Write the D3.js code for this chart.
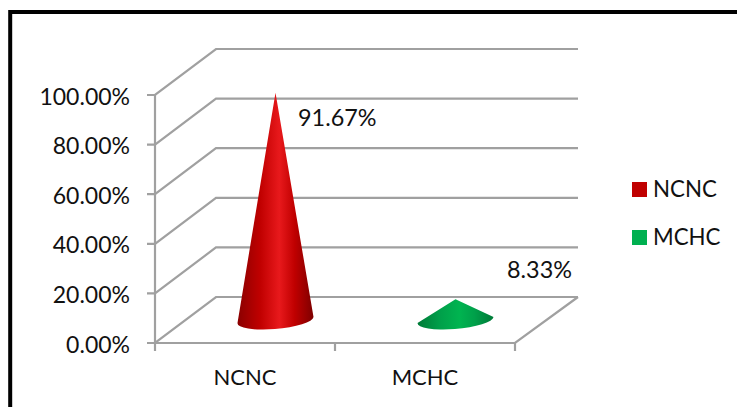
<!DOCTYPE html>
<html>
<head>
<meta charset="utf-8">
<script src="https://cdn.jsdelivr.net/npm/d3@7"></script>
<style>
  html, body { margin: 0; padding: 0; background: #fff; }
  svg { display: block; }
  text { font-family: Lato, "Open Sans", sans-serif; fill: #111; }
</style>
</head>
<body>
<svg id="chart" width="737" height="407"></svg>
<script>
var categories = ["NCNC", "MCHC"];
var values = [91.67, 8.33];
var valueLabels = ["91.67%", "8.33%"];
var yTicks = [0, 20, 40, 60, 80, 100];
var colors = ["#c00000", "#00b050"];

var svg = d3.select("#chart");

// frame
svg.append("path")
  .attr("d", "M10.2,407V12H737")
  .attr("fill", "none")
  .attr("stroke", "#000")
  .attr("stroke-width", 4);

var y = d3.scaleLinear().domain([0, 100]).range([343, 95]);
var x = d3.scaleBand().domain(categories).range([155, 515]);

// depth of the 3d floor
var depthX = 61, depthY = -46;
var grey = "#a0a0a0";
var wall = svg.append("g").attr("fill", "none").attr("stroke", grey).attr("stroke-width", 2.2);

yTicks.forEach(function (t) {
  wall.append("path").attr("d",
    "M" + (x.range()[0] - 8) + "," + y(t) +
    "H" + x.range()[0] +
    "L" + (x.range()[0] + depthX) + "," + (y(t) + depthY) +
    "H" + (x.range()[1] + depthX + 2));
});
wall.append("path").attr("d", "M155," + y(100) + "V" + (y(0) + 8));
wall.append("path").attr("d",
  "M155," + y(0) + "H" + x.range()[1] + "l" + (depthX + 2) + "," + depthY);
x.domain().forEach(function (c) {
  wall.append("path").attr("d", "M" + (x(c) + x.bandwidth()) + "," + y(0) + "v8");
});

svg.append("g").selectAll("text").data(yTicks).enter().append("text")
  .attr("x", 130)
  .attr("y", function (d) { return y(d) + 9.5; })
  .attr("text-anchor", "end")
  .attr("font-size", 23)
  .text(function (d) { return d.toFixed(2) + "%"; });

svg.append("g").selectAll("text").data(categories).enter().append("text")
  .attr("x", function (d) { return x(d) + x.bandwidth() / 2; })
  .attr("y", 385)
  .attr("text-anchor", "middle")
  .attr("font-size", 22)
  .text(function (d) { return d; });

// gradients for the cones
var defs = svg.append("defs");
var shades = [["#8a0000", "#c00000", "#e8191c", "#c00000", "#7d0000"],
              ["#007a38", "#00a04a", "#00b450", "#00a04a", "#007a38"]];
var stops = [0, 0.3, 0.55, 0.75, 1];
shades.forEach(function (s, i) {
  var g = defs.append("linearGradient").attr("id", "cone" + i);
  s.forEach(function (col, j) {
    g.append("stop").attr("offset", stops[j]).attr("stop-color", col);
  });
});

var baseY = y(0) - 23, rx = 38, ry = 9, tilt = 3;
svg.append("g").selectAll("path").data(values).enter().append("path")
  .attr("fill", function (d, i) { return "url(#cone" + i + ")"; })
  .attr("d", function (d, i) {
    var cx = x(categories[i]) + x.bandwidth() / 2 + depthX / 2;
    var apex = baseY - (y(0) - y(d));
    return "M" + cx + "," + apex +
      "L" + (cx + rx) + "," + (baseY - tilt) +
      "A" + rx + "," + ry + " -5 0 1 " + (cx - rx) + "," + (baseY + tilt) + "Z";
  });

var labelX = [298, 507], labelY = [126, 278];
svg.append("g").selectAll("text").data(valueLabels).enter().append("text")
  .attr("x", function (d, i) { return labelX[i]; })
  .attr("y", function (d, i) { return labelY[i]; })
  .attr("font-size", 23.4)
  .text(function (d) { return d; });

// legend
var legend = svg.append("g").selectAll("g").data(categories).enter().append("g")
  .attr("transform", function (d, i) { return "translate(632," + (182 + i * 48) + ")"; });
legend.append("rect").attr("width", 15).attr("height", 15)
  .attr("fill", function (d, i) { return colors[i]; });
legend.append("text").attr("x", 21).attr("y", 15).attr("font-size", 22.3)
  .text(function (d) { return d; });
</script>
</body>
</html>
